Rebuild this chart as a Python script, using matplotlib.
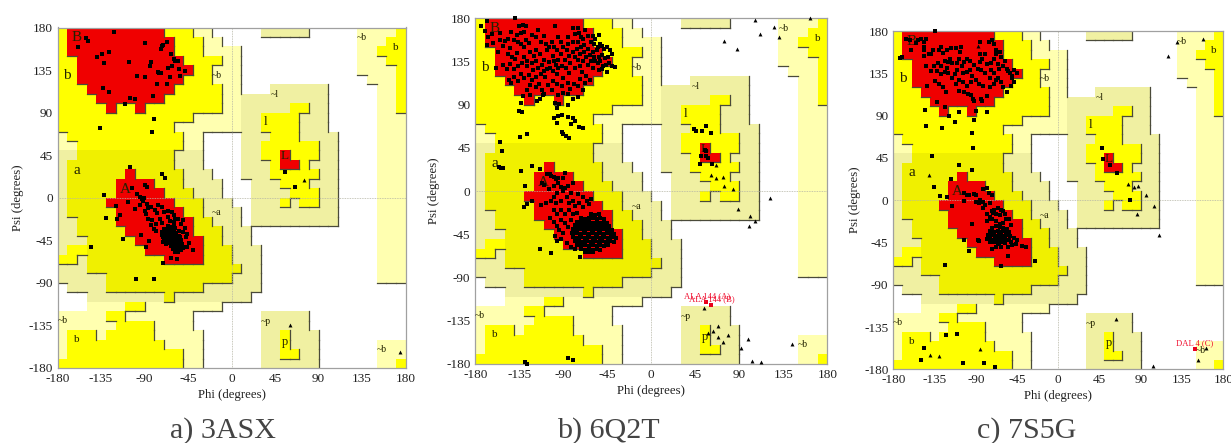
import re
import numpy as np
import matplotlib
matplotlib.use("Agg")
import matplotlib.pyplot as plt
from matplotlib.collections import LineCollection
from matplotlib.colors import ListedColormap

plt.rcParams['font.family'] = ['Liberation Serif', 'DejaVu Serif']

# Ramachandran region map: 10-degree cells, top row psi 170..180, run-length coded
region_rows = [
 "Y1 R10 Y3 y2 .5 e5 .5 y4 Y1", "Y1 R11 Y3 y2 .14 y3 Y2", "Y1 R11 Y3 y4 .12 y2 Y3",
 "Y2 R11 Y4 y2 .12 y3 Y2", "Y2 R12 Y2 y3 .12 y4 Y1", "Y2 R11 Y3 y3 .13 y3 Y1",
 "Y3 R9 Y5 y2 .3 e6 .5 y2 Y1", "Y4 R7 Y6 y2 e9 .5 y2 Y1", "Y5 R1 Y2 R1 Y8 y2 e5 Y2 e2 .5 y2 Y1",
 "Y14 y5 e2 Y4 e3 .5 y3", "Y12 y7 e2 Y4 e3 .5 y3", "y1 Y12 y2 .4 e3 Y3 e4 .4 y3",
 "y2 Y11 y2 .4 e2 Y6 e2 .4 y3", "e2 A10 e3 .4 e2 Y2 R1 Y3 e2 .4 y3", "e1 A11 e3 .4 e3 Y1 R2 Y1 e3 .4 y3",
 "e1 A6 R1 A5 e3 .3 e3 Y5 e2 .4 y3", "e1 A5 R4 A3 e4 .3 e3 Y3 e3 .4 y3", "e1 A5 R5 A3 e3 .3 e4 Y3 e2 .4 y3",
 "e1 A4 R7 A3 e3 .2 e3 Y1 e1 Y2 e2 .4 y3", "e1 A5 R7 A2 e4 .1 e9 .4 y3", "e2 A4 R8 A2 e3 .1 e9 .4 y3",
 "e2 A5 R7 A3 e3 .13 y3", "e3 A5 R7 A2 e3 .13 y3", "e1 Y2 A6 R6 A3 e3 .12 y3",
 "Y2 e1 A8 R4 A3 e3 .12 y3", "e3 A16 e2 .12 y3", "e5 A13 e3 .12 y3",
 ".1 e4 A10 e6 .15", ".3 e8 A1 e8 .16", ".3 y4 Y2 y8 .19",
 "y5 Y2 y7 .7 e5 .10", "y6 Y4 y4 .7 e5 .10", "y1 Y3 y1 Y5 y5 .6 e2 Y1 e3 .9",
 "y1 Y10 y4 .6 e2 Y1 e3 .6 y3", "y1 Y12 y2 .6 e2 Y2 e2 .6 y3", "Y13 y2 .6 e6 .6 y2 Y1",
]

region_labels = [
 ("B", -160, 169, 11), ("b", -170, 129, 11), ("~b", -15, 129, 7), ("a", -160, 29, 11),
 ("A", -110, 9, 11), ("~a", -15, -16, 7), ("~l", 45, 109, 7), ("l", 35, 80, 9.5),
 ("L", 55, 44, 9.5), ("~b", 135, 169, 7), ("b", 170, 159, 8), ("~b", -175, -130, 7),
 ("b", -160, -150, 8), ("~p", 35, -131, 7), ("p", 55, -152, 9), ("~b", 155, -160, 7),
]

ticks = [-180, -135, -90, -45, 0, 45, 90, 135, 180]

# Panel a: 3ASX
a_squares = [
 (-151,169),(-148,166),(-122,175),(-159,159),(-139,149),(-134,152),(-127,154),(-132,142),(-106,143),
 (-90,164),(-72,160),(-71,161),(-73,157),(-67,165),(-63,152),(-59,147),(-58,145),(-55,145),(-83,144),
 (-84,139),(-66,137),(-62,139),(-54,136),(-48,134),(-53,129),(-76,133),(-75,132),(-73,132),(-98,129),
 (-89,128),(-64,128),(-77,120),(-67,120),(-133,116),(-127,112),(-81,108),(-105,105),(-100,104),(-110,99),
 (-80,83),(-136,74),(-82,69),(-105,33),(-72,25),(-69,21),(-89,13),(-87,11),(-103,10),(-132,3),
 (-98,4),(-95,1),(-93,-1),(-91,0),(-92,-3),(-107,-4),(-120,-9),(-100,-12),(-95,-8),(-87,-7),(-90,-14),
 (-88,-17),(-86,-11),(-83,-10),(-76,-8),(-72,-10),(-79,-13),(-86,-22),(-82,-23),(-77,-16),(-74,-22),
 (-70,-15),(-66,-14),(-62,-15),(-60,-18),(-66,-20),(-58,-22),(-55,-22),(-50,-23),(-64,-25),(-60,-26),
 (-72,-27),(-78,-28),(-83,-29),(-80,-33),(-78,-35),(-52,-28),(-48,-32),(-50,-36),(-46,-38),(-47,-42),
 (-44,-48),(-40,-55),(-46,-52),(-50,-53),(-53,-52),(-71,-47),(-68,-49),(-115,-18),(-118,-22),(-130,-21),
 (-112,-44),(-94,-39),(-85,-46),(-88,-52),(-145,-52),(-99,-86),(-80,-86),(-71,-69),(-63,-64),(-56,-65),
 (-66,-30),(-63,-31),(-60,-29),(-70,-33),(-67,-34),(-64,-33),(-61,-33),(-58,-32),(-72,-36),(-69,-37),
 (-66,-36),(-63,-37),(-60,-36),(-57,-37),(-54,-35),(-72,-39),(-69,-40),(-66,-40),(-63,-39),(-60,-40),
 (-57,-39),(-54,-40),(-71,-42),(-68,-43),(-65,-42),(-62,-43),(-59,-42),(-56,-43),(-53,-42),(-70,-45),
 (-67,-46),(-64,-45),(-61,-46),(-58,-45),(-55,-46),(-52,-45),(-66,-48),(-63,-49),(-60,-48),(-57,-49),
 (-54,-48),(-51,-49),(-63,-51),(-60,-52),(-57,-51),(-54,-52),(-51,-51),(-48,-52),(-61,-54),(-58,-55),
 (-55,-54),(-52,-55),(-58,-57),(-55,-57),(55,27),(66,11),
]
a_triangles = [(60,-135),(75,19),(174,-163)]

# Panel b: 6Q2T
b_squares = [
 (-139,180),(-168,177),(-174,172),(-170,167),(-167,160),(-163,164),(-168,152),(-162,154),(-155,157),
 (-150,156),(-147,158),(-152,151),(-143,166),(-137,163),(-135,172),(-131,173),(-133,165),(-130,166),
 (-140,157),(-136,155),(-133,153),(-128,157),(-130,150),(-125,154),(-113,155),(-108,153),(-105,150),
 (-102,155),(-107,147),(-100,150),(-99,172),(-95,161),(-80,170),(-75,170),(-78,164),(-74,165),(-72,160),
 (-70,158),(-69,152),(-75,155),(-68,168),(-65,162),(-60,162),(-53,163),(-59,153),(-55,150),(-52,153),
 (-50,151),(-48,148),(-45,150),(-42,147),(-56,147),(-60,145),(-63,142),(-59,140),(-54,140),(-50,142),
 (-47,139),(-44,140),(-40,143),(-43,133),(-46,131),(-49,130),(-52,135),(-55,133),(-58,136),(-62,135),
 (-65,131),(-60,128),(-54,126),(-50,127),(-45,124),(-40,130),(-37,129),(-157,145),(-159,128),(-152,131),
 (-148,127),(-145,132),(-140,127),(-136,130),(-133,122),(-140,119),(-146,116),(-143,113),(-136,115),
 (-130,118),(-125,121),(-122,116),(-118,119),(-113,122),(-109,119),(-115,112),(-107,127),(-112,131),
 (-118,136),(-120,141),(-124,145),(-118,147),(-114,143),(-110,137),(-105,134),(-101,141),(-96,147),
 (-92,143),(-88,137),(-84,141),(-80,145),(-76,148),(-83,133),(-87,128),(-91,130),(-97,131),(-101,125),
 (-96,122),(-90,118),(-84,123),(-78,128),(-73,130),(-71,124),(-67,120),(-63,116),(-68,113),(-73,117),
 (-79,112),(-85,113),(-91,109),(-96,112),(-101,115),(-106,110),(-112,105),(-118,108),(-124,111),(-127,105),
 (-102,105),(-110,101),(-90,102),(-83,106),(-75,109),(-70,105),(-139,138),(-137,144),(-130,140),(-127,136),
 (-132,133),(-144,149),(-147,143),(-142,140),(-127,130),(-121,126),(-116,128),(-122,133),(-104,128),
 (-110,125),(-95,137),(-90,150),(-85,153),(-80,155),(-92,155),(-85,160),(-122,163),(-118,160),(-116,168),
 (-110,162),(-128,172),(-155,165),(-95,128),(-75,137),(-70,135),(-67,140),(-65,148),(-62,155),(-58,158),
 (-73,143),(-69,145),(-100,135),(-86,147),(-78,140),(-72,150),
 (-133,92),(-131,99),(-124,100),(-117,94),(-114,96),(-111,100),(-98,92),(-96,87),(-94,91),(-85,90),
 (-80,96),(-75,98),(-85,101),(-95,100),(-135,83),(-132,82),(-100,76),(-95,78),(-91,79),(-85,77),(-80,76),
 (-78,73),(-82,70),(-96,71),(-74,67),(-70,66),(-91,61),(-90,59),(-87,57),(-84,55),(-134,56),(-127,59),
 (-155,51),(-153,42),(-156,25),(-154,24),(-152,24),(-133,21),(-122,26),(-114,23),(-129,5),(-104,18),
 (-88,19),(-127,-14),(-130,-17),(-122,-10),(-114,-60),(-103,-65),(-73,-69),
 (-107,18),(-103,16),(-100,15),(-97,12),(-95,14),(-90,14),(-110,6),(-105,2),(-112,8),(-100,5),(-95,8),
 (-92,4),(-88,3),(-85,5),(-80,8),(-90,0),(-96,-2),(-100,-6),(-103,-10),(-97,-13),(-92,-10),(-86,-6),
 (-82,-2),(-75,-3),(-70,-6),(-66,-10),(-62,-8),(-84,-13),(-80,-10),(-78,-16),(-74,-13),(-70,-17),(-64,-14),
 (-113,-15),(-108,-13),(-100,-20),(-96,-24),(-92,-20),(-88,-24),(-84,-20),(-80,-24),(-76,-23),(-104,-28),
 (-100,-32),(-96,-36),(-92,-30),(-88,-33),(-85,-38),(-82,-30),(-78,-35),(-94,-41),(-90,-44),(-98,-47),
 (-96,-52),(-92,-50),(-86,-54),(-82,-58),(-78,-60),(-74,-55),
 (-62,-24),(-58,-25),(-54,-24),(-72,-28),(-68,-29),(-64,-28),(-60,-28),(-56,-29),(-52,-28),(-48,-29),
 (-76,-32),(-72,-32),(-68,-33),(-64,-32),(-60,-33),(-56,-32),(-52,-33),(-48,-32),(-45,-33),
 (-78,-36),(-74,-36),(-70,-37),(-66,-36),(-62,-37),(-58,-36),(-54,-37),(-50,-36),(-46,-37),(-43,-37),
 (-80,-40),(-76,-41),(-72,-40),(-68,-41),(-64,-40),(-60,-41),(-56,-40),(-52,-41),(-48,-40),(-44,-41),(-40,-41),
 (-81,-44),(-77,-44),(-73,-45),(-69,-44),(-65,-45),(-61,-44),(-57,-45),(-53,-44),(-49,-45),(-45,-44),(-41,-45),(-38,-45),
 (-80,-48),(-76,-49),(-72,-48),(-68,-49),(-64,-48),(-60,-49),(-56,-48),(-52,-49),(-48,-48),(-44,-49),(-40,-48),(-36,-49),
 (-78,-52),(-74,-52),(-70,-53),(-66,-52),(-62,-53),(-58,-52),(-54,-53),(-50,-52),(-46,-53),(-42,-52),(-38,-53),
 (-76,-56),(-72,-57),(-68,-56),(-64,-57),(-60,-56),(-56,-57),(-52,-56),(-48,-57),(-44,-56),
 (-72,-60),(-68,-61),(-64,-60),(-60,-61),(-56,-60),(-52,-61),(-68,-64),(-64,-64),(-60,-64),
 (44,65),(46,63),(52,63),(56,68),(61,60),(55,43),(56,42),(51,37),(56,36),(58,34),(50,28),(62,28),
 (-85,-174),(-80,-176),(-129,-178),(-127,-180),
]
b_triangles = [
 (162,180),(106,178),(125,171),(111,164),(131,160),(74,156),(88,148),(121,-7),(89,-19),(101,-26),(106,-31),
 (100,-36),(61,17),(66,14),(73,15),(74,5),(84,2),(66,27),(54,-122),(68,-141),(63,-146),(58,-148),(78,-150),
 (68,-152),(73,-157),(99,-154),(92,-164),(144,-159),(103,-177),(112,-178),
]
b_outliers = [(56,-116),(61,-119)]
b_outlier_labels = [("ALA 144 (A)", 57, -110), ("ALA 144 (B)", 62, -112.5)]

# Panel c: 7S5G
c_squares = [
 (-134,180),(-173,151),(-170,152),(-166,171),(-162,170),(-161,160),
 (-155,167),(-153,170),(-150,171),(-147,168),(-147,163),(-146,160),(-144,172),(-146,153),(-141,156),
 (-139,155),(-137,160),(-144,143),(-139,137),(-136,143),(-131,146),(-128,143),(-132,137),(-128,134),
 (-124,148),(-120,147),(-118,150),(-116,146),(-121,141),(-124,136),(-120,135),(-134,127),(-130,124),
 (-126,120),(-122,115),(-143,122),(-130,160),(-128,163),(-126,157),(-121,160),(-117,162),(-112,162),
 (-106,163),(-107,158),(-108,150),(-111,146),(-105,143),(-103,147),(-100,150),(-96,148),(-111,138),
 (-113,134),(-116,130),(-112,124),(-108,128),(-104,135),(-100,136),(-96,138),(-94,132),(-104,126),
 (-100,122),(-95,126),(-90,128),(-86,124),(-82,122),(-108,116),(-103,115),(-99,113),(-95,112),(-93,108),
 (-92,105),(-84,108),(-83,105),(-78,111),(-74,120),(-70,124),(-75,130),(-80,135),(-84,138),(-88,140),
 (-92,144),(-85,147),(-83,150),(-80,155),(-85,155),(-78,145),(-73,146),(-73,139),(-70,135),(-66,130),
 (-68,128),(-62,126),(-60,120),(-56,115),(-52,122),(-48,126),(-50,130),(-53,135),(-56,140),(-60,143),
 (-66,145),(-65,140),(-70,150),(-68,155),(-68,160),(-76,168),(-72,170),(-70,166),(-64,158),(-62,152),
 (-58,148),(-55,137),(-48,138),(-45,135),(-50,132),(-85,168),
 (-145,96),(-124,99),(-132,104),(-119,90),(-108,94),(-90,95),(-78,94),(-92,85),(-113,83),(-144,79),(-127,77),
 (-94,71),(-93,56),(-138,47),(-108,37),(-94,32),(-117,22),(-136,14),(-129,4),(-121,3),(-116,-6),(-124,-69),
 (-25,-65),(-62,-70),(-55,-59),(-97,-54),(-103,-42),(-122,-143),(-110,-142),(-147,-157),(-150,-170),
 (-104,-173),(-81,-173),(-69,-178),(48,55),(49,44),(56,37),(64,29),(78,0),
 (-103,8),(-100,6),(-97,5),(-92,7),(-90,5),(-82,12),(-78,13),(-76,8),(-72,5),(-103,-1),(-90,-2),(-87,-3),
 (-85,0),(-82,-2),(-80,-5),(-75,-3),(-82,-8),(-78,-15),(-74,-18),(-72,-12),(-70,-10),(-66,-8),(-63,-10),
 (-60,-12),(-58,-15),(-54,-20),(-57,-20),(-60,-24),(-64,-25),(-68,-22),(-72,-20),(-75,-20),(-78,-22),
 (-64,-16),(-68,-15),(-71,-14),(-52,-26),(-94,-25),
 (-50,-48),(-46,-47),(-40,-49),(-35,-50),(-45,-42),(-48,-40),(-52,-45),(-55,-50),(-62,-50),(-68,-50),
 (-72,-52),(-65,-47),(-86,-43),(-88,-42),(-72,-30),(-68,-28),(-64,-29),(-60,-30),(-56,-31),
 (-74,-33),(-70,-34),(-66,-33),(-62,-34),(-58,-33),(-54,-34),(-77,-37),(-73,-37),(-69,-38),(-65,-37),
 (-61,-38),(-57,-37),(-53,-38),(-78,-41),(-74,-41),(-70,-42),(-66,-41),(-62,-42),(-58,-41),(-54,-42),
 (-74,-45),(-70,-45),(-66,-46),(-62,-45),(-58,-46),
]
c_triangles = [
 (-141,27),(-88,164),(76,17),(83,14),(87,15),(96,6),(104,-6),(86,-15),(110,-37),(63,-127),(158,172),
 (129,168),(120,153),(161,-157),(152,-170),(103,-176),(-85,-158),(-140,-165),(-130,-166),
]
c_outliers = [(149,-158)]
c_outlier_labels = [("DAL 4 (C)", 149, -152)]

panels = [
    ("a) 3ASX", (57.5, 405.5, 27.5, 368.0), a_squares, a_triangles, [], [], 223, -40, -27),
    ("b) 6Q2T", (475.3, 827.3, 18.3, 363.7), b_squares, b_triangles, b_outliers, b_outlier_labels, 608, -41, -27),
    ("c) 7S5G", (893.3, 1223.3, 31.0, 369.3), c_squares, c_triangles, c_outliers, c_outlier_labels, 1027, -38, -27),
]

FW, FH = 1231, 443
codes = ".eyYAR"
colors = ["#ffffff", "#f0f0a2", "#ffffb0", "#ffff00", "#f0f000", "#f00000"]
rank = {".": 0, "e": 1, "y": 1, "Y": 2, "A": 2, "R": 3}


def decode(row):
    return "".join(t * int(n) for t, n in re.findall(r"([.a-zA-Z])(\d+)", row))


grid_txt = [decode(r) for r in region_rows]
grid = np.array([[codes.index(ch) for ch in row] for row in grid_txt])
ranks = np.array([[rank[ch] for ch in row] for row in grid_txt])
phi_edges = np.linspace(-180, 180, grid.shape[1] + 1)
psi_edges = np.linspace(180, -180, grid.shape[0] + 1)

shade = []
for r in range(ranks.shape[0]):
    for c in range(ranks.shape[1]):
        if c + 1 < ranks.shape[1] and ranks[r, c] > ranks[r, c + 1]:
            shade.append([(phi_edges[c + 1], psi_edges[r]), (phi_edges[c + 1], psi_edges[r + 1])])
        if r + 1 < ranks.shape[0] and ranks[r, c] > ranks[r + 1, c]:
            shade.append([(phi_edges[c], psi_edges[r + 1]), (phi_edges[c + 1], psi_edges[r + 1])])

fig = plt.figure(figsize=(FW / 100, FH / 100), dpi=100)
cmap = ListedColormap(colors)

for caption, (x0, x1, y0, y1), squares, triangles, outliers, out_labels, cap_x, lab_x, lab_y in panels:
    w, h = x1 - x0, y1 - y0
    ax = fig.add_axes([x0 / FW, 1 - y1 / FH, w / FW, h / FH])
    ax.pcolormesh(phi_edges, psi_edges, grid, cmap=cmap, vmin=-0.5, vmax=5.5, linewidth=0, rasterized=True, zorder=1)
    ax.add_collection(LineCollection(shade, colors="#4a4a3a", linewidths=0.9, zorder=2, capstyle="projecting"))
    ax.axhline(0, color="#b5b5a5", lw=0.6, ls=(0, (1, 1)), zorder=3)
    ax.axvline(0, color="#b5b5a5", lw=0.6, ls=(0, (1, 1)), zorder=3)
    for text, px, py, size in region_labels:
        ax.text(px, py, text, fontsize=size, ha="center", va="center", color="#222200", zorder=3)
    ax.scatter(*zip(*squares), marker="s", s=10, c="black", linewidths=0, zorder=5, clip_on=False)
    ax.scatter(*zip(*triangles), marker="^", s=8, c="black", linewidths=0, zorder=5, clip_on=False)
    if outliers:
        ax.scatter(*zip(*outliers), marker="s", s=10, c="#e8001c", linewidths=0, zorder=6)
    for text, px, py in out_labels:
        ax.text(px, py, text, fontsize=6.2, color="#f01030", ha="center", va="center", zorder=6)
    ax.set_xlim(-180, 180)
    ax.set_ylim(-180, 180)
    ax.set_xticks(ticks, [str(t) for t in ticks])
    ax.set_yticks(ticks, [str(t) for t in ticks])
    ax.tick_params(length=0, pad=3.5, labelsize=9.5, colors="#222222")
    ax.set_xlabel("Phi (degrees)", fontsize=9.2, color="#222222")
    ax.set_ylabel("Psi (degrees)", fontsize=9.2, color="#222222")
    ax.xaxis.set_label_coords(0.5, lab_y / h, transform=ax.transAxes)
    ax.yaxis.set_label_coords(lab_x / w, 0.5, transform=ax.transAxes)
    ax.xaxis.label.set_verticalalignment("center")
    ax.yaxis.label.set_verticalalignment("center")
    for s in ax.spines.values():
        s.set_color("#a0a0a0")
        s.set_linewidth(0.9)
    fig.text(cap_x / FW, 1 - 438 / FH, caption, fontsize=21.6, ha="center", va="baseline", color="#444444")

fig.savefig("out.png", dpi=100)
